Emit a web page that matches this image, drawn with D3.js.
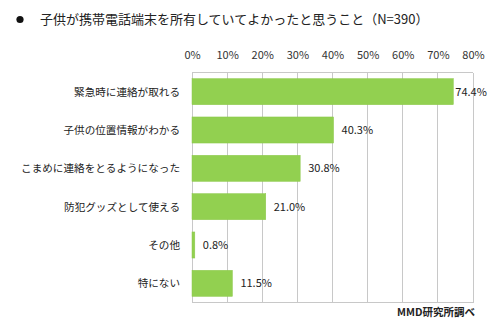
<!DOCTYPE html>
<html><head><meta charset="utf-8">
<script src="https://cdn.jsdelivr.net/npm/d3@7"></script>
<style>body{margin:0;background:#fff;}svg{display:block;}</style>
</head><body>
<script>
const categories = ["緊急時に連絡が取れる","子供の位置情報がわかる","こまめに連絡をとるようになった","防犯グッズとして使える","その他","特にない"];
const values = [74.4, 40.3, 30.8, 21.0, 0.8, 11.5];
const tickValues = [0,10,20,30,40,50,60,70,80];
const title = "子供が携帯電話端末を所有していてよかったと思うこと（N=390）";
const source = "MMD研究所調べ";

(function(){
const W=500,H=327;
const font = "'Noto Sans CJK JP', sans-serif";
const svg = d3.select("body").append("svg").attr("width",W).attr("height",H);
const pL=192,pR=473,pT=72.5,pB=302.5;
const x = d3.scaleLinear().domain([0,80]).range([pL,pR]);
const y = d3.scaleBand().domain(categories).range([pT,pB]).paddingInner(0.32).paddingOuter(0.16);

// title
svg.append("circle").attr("cx",20).attr("cy",19.5).attr("r",3.6).attr("fill","#111");
svg.append("text").attr("x",40).attr("y",24).attr("font-family",font).attr("font-size",13).attr("fill","#222").text(title);

// grid
svg.append("g").selectAll("line").data(tickValues).join("line")
  .attr("x1",d=>x(d)).attr("x2",d=>x(d)).attr("y1",pT).attr("y2",pB)
  .attr("stroke","#c8c8c8").attr("stroke-width",1).attr("shape-rendering","crispEdges");
svg.append("line").attr("x1",pL).attr("x2",pR).attr("y1",pT).attr("y2",pT).attr("stroke","#c8c8c8").attr("shape-rendering","crispEdges");
svg.append("line").attr("x1",pL).attr("x2",pR).attr("y1",pB).attr("y2",pB).attr("stroke","#c8c8c8").attr("shape-rendering","crispEdges");

// top axis labels
const axis = d3.axisTop(x).tickValues(tickValues).tickFormat(d=>d+"%").tickSize(0).tickPadding(0);
const ag = svg.append("g").attr("transform",`translate(0,59)`).call(axis);
ag.select(".domain").remove();
ag.selectAll("text").attr("font-family",font).attr("font-size",11).attr("fill","#333").attr("dy",0);

// bars
svg.append("g").selectAll("rect").data(values).join("rect")
  .attr("x",x(0)).attr("y",(d,i)=>y(categories[i]))
  .attr("width",d=>x(d)-x(0)).attr("height",y.bandwidth())
  .attr("fill","#92D050").attr("stroke","#8cc84b").attr("stroke-width",0.5);

// value labels
svg.append("g").selectAll("text").data(values).join("text")
  .attr("x",d=>x(d)+(d>70?2:8)).attr("y",(d,i)=>y(categories[i])+y.bandwidth()/2+4)
  .attr("font-family",font).attr("font-size",11).attr("fill","#222")
  .text(d=>d.toFixed(1)+"%");

// category labels
svg.append("g").selectAll("text").data(categories).join("text")
  .attr("x",180).attr("y",d=>y(d)+y.bandwidth()/2+4).attr("text-anchor","end")
  .attr("font-family",font).attr("font-size",10.6).attr("fill","#222").text(d=>d);

// source
svg.append("text").attr("x",475).attr("y",316).attr("text-anchor","end")
  .attr("font-family",font).attr("font-size",10.5).attr("font-weight","bold").attr("fill","#222").text(source);
})();
</script>
</body></html>
